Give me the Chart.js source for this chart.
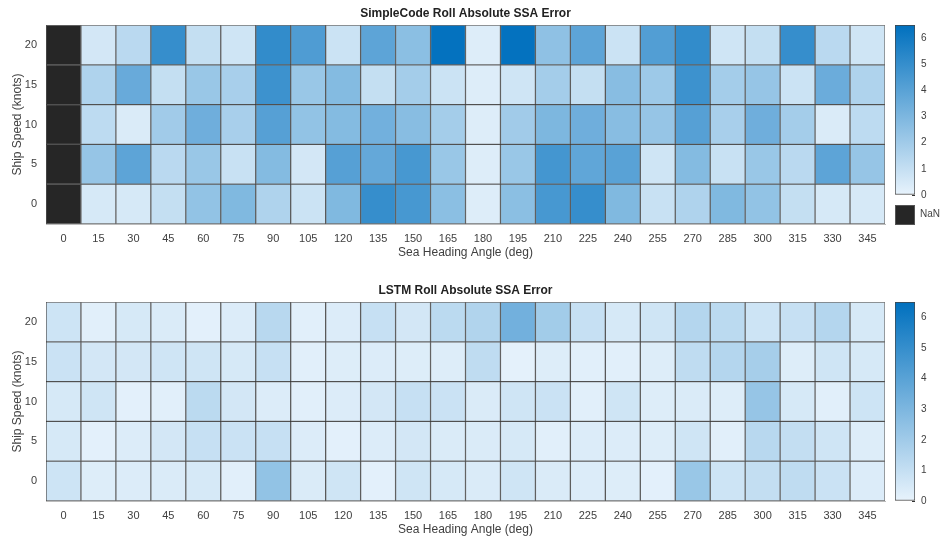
<!DOCTYPE html>
<html>
<head>
<meta charset="utf-8">
<script src="https://cdn.jsdelivr.net/npm/chart.js@4.4.1/dist/chart.umd.min.js"></script>
<style>
  body { margin: 0; background: #fff; width: 940px; height: 542px; position: relative; overflow: hidden; font-family: 'Liberation Sans', Arial, sans-serif; }
  canvas { position: absolute; }
  .nan { position: absolute; left: 895px; top: 205px; width: 18px; height: 18px; background: #262626; border: 1px solid #555; }
  .nanlbl { position: absolute; left: 920px; top: 208px; font-size: 10px; color: #444; }
</style>
</head>
<body>
<canvas id="topMap" style="left:0;top:0;width:890px;height:265px" width="890" height="265"></canvas>
<canvas id="topBar" style="left:890px;top:0;width:50px;height:265px" width="50" height="265"></canvas>
<div class="nan"></div><div class="nanlbl">NaN</div>
<canvas id="botMap" style="left:0;top:277px;width:890px;height:265px" width="890" height="265"></canvas>
<canvas id="botBar" style="left:890px;top:277px;width:50px;height:265px" width="50" height="265"></canvas>
<script>
(function () {
    "use strict";

    // sea heading angles (deg) and ship speeds (knots)
    var headings = ['0', '15', '30', '45', '60', '75', '90', '105', '120', '135', '150', '165',
                    '180', '195', '210', '225', '240', '255', '270', '285', '300', '315', '330', '345'];
    var speeds = [20, 15, 10, 5, 0];
    var cbTicks = [0, 1, 2, 3, 4, 5, 6];
    var cbMax = 6.5;

    // SimpleCode roll absolute SSA error, one array per speed (null = NaN)
    var sc20 = [null, 0.6, 1.3, 5.0, 1.0, 0.7, 5.1, 4.3, 0.8, 3.9, 2.6, 6.4, 0.3, 6.4, 2.5, 3.9, 0.8, 4.2, 5.1, 0.7, 1.0, 5.0, 1.3, 0.7];
    var sc15 = [null, 1.6, 3.6, 1.0, 2.2, 1.8, 4.8, 2.2, 2.8, 1.0, 1.9, 0.8, 0.3, 0.7, 1.9, 1.0, 2.7, 2.1, 4.8, 1.9, 2.3, 0.8, 3.5, 1.6];
    var sc10 = [null, 1.2, 0.4, 2.0, 3.4, 1.8, 4.1, 2.4, 2.8, 3.3, 2.7, 1.9, 0.3, 2.0, 3.0, 3.4, 2.7, 2.3, 4.1, 1.8, 3.4, 1.9, 0.4, 1.2];
    var sc5  = [null, 2.3, 3.9, 1.3, 2.2, 0.9, 2.8, 0.6, 4.1, 3.7, 4.5, 2.2, 0.3, 2.2, 4.6, 3.8, 4.0, 0.7, 2.8, 0.9, 2.2, 1.3, 3.9, 2.3];
    var sc0  = [null, 0.5, 0.5, 1.0, 2.4, 2.9, 1.6, 0.8, 2.9, 5.0, 4.5, 2.6, 0.3, 2.6, 4.5, 5.0, 2.9, 0.9, 1.6, 2.9, 2.4, 1.0, 0.5, 0.5];

    // LSTM roll absolute SSA error
    var ls20 = [0.75, 0.2, 0.5, 0.4, 0.15, 0.35, 1.35, 0.2, 0.35, 0.95, 0.6, 1.25, 1.55, 3.3, 1.95, 0.95, 0.5, 0.7, 1.45, 1.25, 0.75, 0.95, 1.45, 0.5];
    var ls15 = [0.85, 0.6, 0.6, 0.7, 0.7, 0.5, 0.95, 0.2, 0.3, 0.35, 0.3, 0.3, 1.15, 0.1, 0.3, 0.2, 0.2, 0.3, 1.15, 1.45, 1.85, 0.3, 0.7, 0.5];
    var ls10 = [0.5, 0.7, 0.15, 0.2, 1.25, 0.6, 0.35, 0.2, 0.35, 0.6, 0.95, 0.85, 0.4, 0.7, 0.85, 0.2, 0.7, 0.3, 0.4, 0.3, 2.3, 0.5, 0.2, 0.75];
    var ls5  = [0.5, 0.15, 0.35, 0.6, 0.95, 0.85, 0.95, 0.35, 0.15, 0.35, 0.6, 0.4, 0.4, 0.5, 0.2, 0.35, 0.35, 0.3, 0.7, 0.2, 1.35, 1.05, 0.7, 0.3];
    var ls0  = [0.75, 0.3, 0.35, 0.4, 0.5, 0.2, 2.4, 0.4, 0.7, 0.15, 0.7, 0.5, 0.4, 0.7, 0.4, 0.35, 0.3, 0.15, 2.2, 0.75, 1.05, 1.15, 0.85, 0.35];

    var lo = [232, 243, 252], hi = [0, 112, 190];
    var nanColor = '#262626';
    var font = "'Liberation Sans', Arial, sans-serif";
    var txt = '#404040';

    function colorOf(v) {
        if (v === null) return nanColor;
        var t = Math.max(0, Math.min(1, v / cbMax));
        var c = lo.map(function (l, i) { return Math.round(l + (hi[i] - l) * t); });
        return 'rgb(' + c.join(',') + ')';
    }

    function heatmap(id, title, rows) {
        var datasets = rows.map(function (vals, r) {
            var s = speeds[r];
            return {
                data: vals.map(function () { return [s - 2.5, s + 2.5]; }),
                backgroundColor: vals.map(colorOf),
                borderColor: 'rgba(0,0,0,0.55)',
                borderWidth: 1,
                borderSkipped: false,
                barPercentage: 1,
                categoryPercentage: 1,
                grouped: false
            };
        });
        new Chart(document.getElementById(id), {
            type: 'bar',
            data: { labels: headings, datasets: datasets },
            options: {
                responsive: false,
                animation: false,
                layout: { padding: { right: 5 } },
                plugins: {
                    legend: { display: false },
                    tooltip: { enabled: false },
                    title: {
                        display: true, text: title, fullSize: false,
                        color: '#222', font: { family: font, size: 12, weight: 'bold' },
                        padding: { top: 6, bottom: 4.6 }
                    }
                },
                scales: {
                    x: {
                        grid: { display: false, drawTicks: false },
                        border: { color: '#bbb' },
                        ticks: { color: txt, font: { family: font, size: 11 }, padding: 8, maxRotation: 0, autoSkip: false },
                        title: { display: true, text: 'Sea Heading Angle (deg)', color: txt, font: { family: font, size: 12 }, padding: { top: 0, bottom: 5 } },
                        afterFit: function (s) { s.height = 41; }
                    },
                    y: {
                        min: -2.5, max: 22.5,
                        grid: { display: false, drawTicks: false },
                        border: { color: '#bbb' },
                        ticks: { color: txt, font: { family: font, size: 11 }, padding: 9 },
                        title: { display: true, text: 'Ship Speed (knots)', color: txt, font: { family: font, size: 12 }, padding: { top: 10, bottom: 0 } },
                        afterBuildTicks: function (s) { s.ticks = speeds.map(function (v) { return { value: v }; }); },
                        afterFit: function (s) { s.width = 46; }
                    }
                }
            }
        });
    }

    function colorbar(id, padBottom) {
        new Chart(document.getElementById(id), {
            type: 'bar',
            data: {
                labels: [''],
                datasets: [{
                    data: [[0, cbMax]],
                    backgroundColor: function (ctx) {
                        var a = ctx.chart.chartArea;
                        if (!a) return colorOf(0);
                        var g = ctx.chart.ctx.createLinearGradient(0, a.bottom, 0, a.top);
                        g.addColorStop(0, colorOf(0));
                        g.addColorStop(1, colorOf(cbMax));
                        return g;
                    },
                    borderColor: '#444',
                    borderWidth: 1,
                    borderSkipped: false,
                    barPercentage: 1,
                    categoryPercentage: 1
                }]
            },
            options: {
                responsive: false,
                animation: false,
                layout: { padding: { left: 5, top: 25, bottom: padBottom } },
                plugins: { legend: { display: false }, tooltip: { enabled: false } },
                scales: {
                    x: { display: false },
                    y: {
                        position: 'right',
                        min: 0, max: cbMax,
                        grid: { display: true, drawOnChartArea: false, drawTicks: true, tickLength: -3, color: '#333' },
                        border: { display: false },
                        ticks: { color: txt, font: { family: font, size: 10 }, padding: 9 },
                        afterBuildTicks: function (s) { s.ticks = cbTicks.map(function (v) { return { value: v }; }); },
                        afterFit: function (s) { s.width = 25; }
                    }
                }
            }
        });
    }

    heatmap('topMap', 'SimpleCode Roll Absolute SSA Error', [sc20, sc15, sc10, sc5, sc0]);
    colorbar('topBar', 70);
    heatmap('botMap', 'LSTM Roll Absolute SSA Error', [ls20, ls15, ls10, ls5, ls0]);
    colorbar('botBar', 41);
})();
</script>
</body>
</html>
